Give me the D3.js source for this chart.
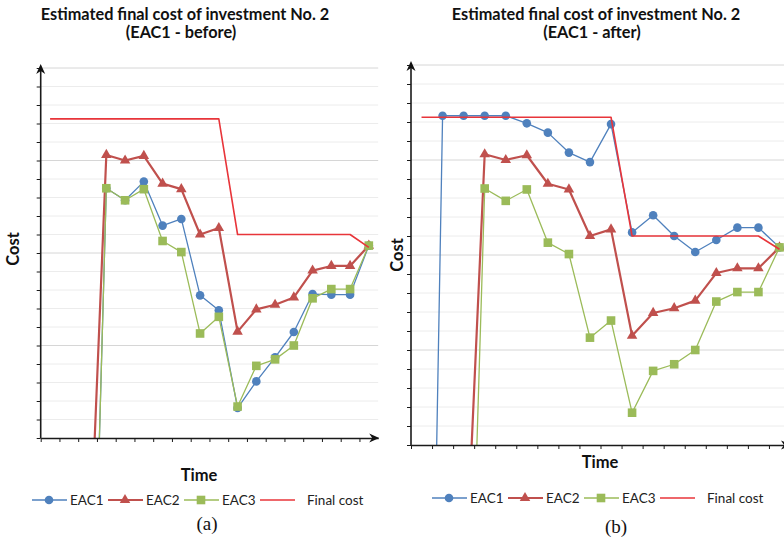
<!DOCTYPE html>
<html>
<head>
<meta charset="utf-8">
<script src="https://cdn.jsdelivr.net/npm/d3@7/dist/d3.min.js"></script>
<style>
  body { margin: 0; background: #fff; }
  svg { display: block; }
</style>
</head>
<body>
<div id="chart"></div>
<script>
// time periods (no tick labels in the picture)
const categories = [1, 2, 3, 4, 5, 6, 7, 8, 9, 10, 11, 12, 13, 14, 15, 16, 17, 18];
// cost in arbitrary units, axis runs 0..20; values below 0 start off-chart
const eac1Before = [null, null, -23, 13.5, 12.85, 13.86, 11.48, 11.84, 7.71, 6.9, 1.62, 3.06, 4.36, 5.73, 7.78, 7.75, 7.75, 10.4];
const eac1After = [-44.6, 17.33, 17.33, 17.33, 17.33, 16.93, 16.44, 15.39, 14.89, 16.89, 11.19, 12.09, 11.0, 10.16, 10.79, 11.44, 11.44, 10.4];
const eac2 = [null, null, -9.4, 15.3, 15.0, 15.25, 13.75, 13.45, 11.0, 11.35, 5.75, 6.95, 7.2, 7.6, 9.05, 9.3, 9.3, 10.4];
const eac3 = [null, null, -23, 13.5, 12.85, 13.45, 10.65, 10.05, 5.65, 6.55, 1.7, 3.9, 4.25, 5.0, 7.55, 8.05, 8.05, 10.4];
const finalCost = [17.25, 17.25, 17.25, 17.25, 17.25, 17.25, 17.25, 17.25, 17.25, 17.25, 11.0, 11.0, 11.0, 11.0, 11.0, 11.0, 11.0, 10.3];
const yGrid = [0, 1, 2, 3, 4, 5, 6, 7, 8, 9, 10, 11, 12, 13, 14, 15, 16, 17, 18, 19, 20];
const seriesNames = ['EAC1', 'EAC2', 'EAC3', 'Final cost'];
const titleMain = 'Estimated final cost of investment No. 2';

const W = 784, H = 540;
const COL = { eac1: '#4f81bd', eac2: '#c0504d', eac3: '#9bbb59', fin: '#e8353a' };
const SANS = 'Lato, "Open Sans", sans-serif';

const svg = d3.select('#chart').append('svg').attr('width', W).attr('height', H)
  .style('font-family', SANS);

const panels = [
  { id: 'a', left: 40.7, right: 378.2, bottom: 438, top: 68, eac1: eac1Before, sub: '(EAC1 - before)', cap: '(a)',
    titleX: 185, costX: 13, costY: 249, timeX: 199, timeY: 481, legX: 32, legY: 500, capX: 207, capY: 530 },
  { id: 'b', left: 411, right: 790, bottom: 445, top: 65, eac1: eac1After, sub: '(EAC1 - after)', cap: '(b)',
    titleX: 596, costX: 397, costY: 255, timeX: 600, timeY: 468, legX: 432, legY: 498, capX: 616, capY: 533 }
];

function marker(g, type, cx, cy, color) {
  if (type === 'circle') {
    g.append('circle').attr('cx', cx).attr('cy', cy).attr('r', 4.3).attr('fill', color);
  } else if (type === 'triangle') {
    g.append('path').attr('d', d3.symbol(d3.symbolTriangle, 48)()).attr('transform', `translate(${cx},${cy})`).attr('fill', color);
  } else if (type === 'square') {
    g.append('rect').attr('x', cx - 4.3).attr('y', cy - 4.3).attr('width', 8.6).attr('height', 8.6).attr('fill', color);
  }
}

panels.forEach(p => {
  const g = svg.append('g');
  const x = d3.scaleBand().domain(categories).range([p.left, p.right]).padding(0);
  const xb = d3.scaleLinear().domain([0, categories.length]).range([p.left, p.right]);
  const y = d3.scaleLinear().domain([0, 20]).range([p.bottom, p.top]);
  const cx = i => x(categories[i]) + x.bandwidth() / 2;

  // grid
  g.append('g').selectAll('line').data(yGrid.filter(v => v > 0)).join('line')
    .attr('x1', p.left).attr('x2', p.right).attr('y1', d => y(d)).attr('y2', d => y(d))
    .attr('stroke', d => d % 5 === 0 ? '#d6d6d6' : '#ececec').attr('stroke-width', 1);

  const clipId = 'clip-' + p.id;
  g.append('clipPath').attr('id', clipId).append('rect')
    .attr('x', p.left).attr('y', p.top - 15).attr('width', W - p.left).attr('height', p.bottom - p.top + 15);
  const plot = g.append('g').attr('clip-path', `url(#${clipId})`);

  const series = [
    { vals: p.eac1, color: COL.eac1, w: 1.3, m: 'circle' },
    { vals: eac2, color: COL.eac2, w: 2.2, m: 'triangle' },
    { vals: eac3, color: COL.eac3, w: 1.3, m: 'square' },
    { vals: finalCost, color: COL.fin, w: 1.6, m: null }
  ];
  const line = d3.line().defined(d => d.v != null).x(d => cx(d.i)).y(d => y(d.v));
  series.forEach(s => {
    const pts = s.vals.map((v, i) => ({ v, i }));
    plot.append('path').datum(pts).attr('d', line).attr('fill', 'none')
      .attr('stroke', s.color).attr('stroke-width', s.w).attr('stroke-linejoin', 'round');
    if (s.m) pts.filter(d => d.v != null && d.v >= 0).forEach(d => marker(plot, s.m, cx(d.i), y(d.v), s.color));
  });

  // axes
  const yAxis = g.append('g').attr('transform', `translate(${p.left},0)`)
    .call(d3.axisLeft(y).tickValues(yGrid).tickFormat('').tickSize(4).tickSizeOuter(0));
  const xAxis = g.append('g').attr('transform', `translate(0,${p.bottom})`)
    .call(d3.axisBottom(xb).tickValues(d3.range(0, categories.length)).tickFormat('').tickSize(4).tickSizeOuter(0));
  [yAxis, xAxis].forEach(a => {
    a.select('.domain').attr('stroke', '#1a1a1a').attr('stroke-width', 1.6);
    a.selectAll('.tick line').attr('stroke', '#1a1a1a').attr('stroke-width', 1);
  });
  yAxis.select('.domain').attr('d', `M0,${p.bottom - 0}V${p.top - 1}`);
  // arrowheads
  g.append('path').attr('fill', '#111')
    .attr('d', `M${p.left},${p.top - 4} L${p.left + 4.5},${p.top + 6} L${p.left},${p.top + 3} L${p.left - 4.5},${p.top + 6}Z`);
  g.append('path').attr('fill', '#111')
    .attr('d', `M${p.right + 1},${p.bottom} L${p.right - 9},${p.bottom - 4.5} L${p.right - 6},${p.bottom} L${p.right - 9},${p.bottom + 4.5}Z`);

  // titles
  g.append('text').attr('x', p.titleX).attr('y', 20).attr('text-anchor', 'middle')
    .attr('font-weight', 'bold').attr('font-size', 16.3).attr('fill', '#111').text(titleMain);
  g.append('text').attr('x', p.titleX - 4).attr('y', 38).attr('text-anchor', 'middle')
    .attr('font-weight', 'bold').attr('font-size', 16.3).attr('fill', '#111').text(p.sub);
  g.append('text').attr('transform', `translate(${p.costX + 6},${p.costY}) rotate(-90)`).attr('text-anchor', 'middle')
    .attr('font-weight', 'bold').attr('font-size', 16.5).attr('fill', '#111').text('Cost');
  g.append('text').attr('x', p.timeX).attr('y', p.timeY).attr('text-anchor', 'middle')
    .attr('font-weight', 'bold').attr('font-size', 16.5).attr('fill', '#111').text('Time');

  // legend
  const leg = g.append('g').attr('transform', `translate(${p.legX},${p.legY})`);
  const legMarks = ['circle', 'triangle', 'square', null];
  const legCols = [COL.eac1, COL.eac2, COL.eac3, COL.fin];
  seriesNames.forEach((name, i) => {
    const lx = i * 76;
    leg.append('line').attr('x1', lx).attr('x2', lx + 35).attr('y1', 0).attr('y2', 0)
      .attr('stroke', legCols[i]).attr('stroke-width', i === 1 ? 2.2 : 1.5);
    if (legMarks[i]) marker(leg, legMarks[i], lx + 17, 0, legCols[i]);
    leg.append('text').attr('x', lx + (i === 3 ? 47 : 38)).attr('y', 4.6).attr('font-size', 13.5)
      .attr('fill', '#222').text(name);
  });

  g.append('text').attr('x', p.capX).attr('y', p.capY).attr('text-anchor', 'middle')
    .attr('font-family', '"Liberation Serif", "Times New Roman", serif').attr('font-size', 19)
    .attr('fill', '#111').text(p.cap);
});
</script>
</body>
</html>
